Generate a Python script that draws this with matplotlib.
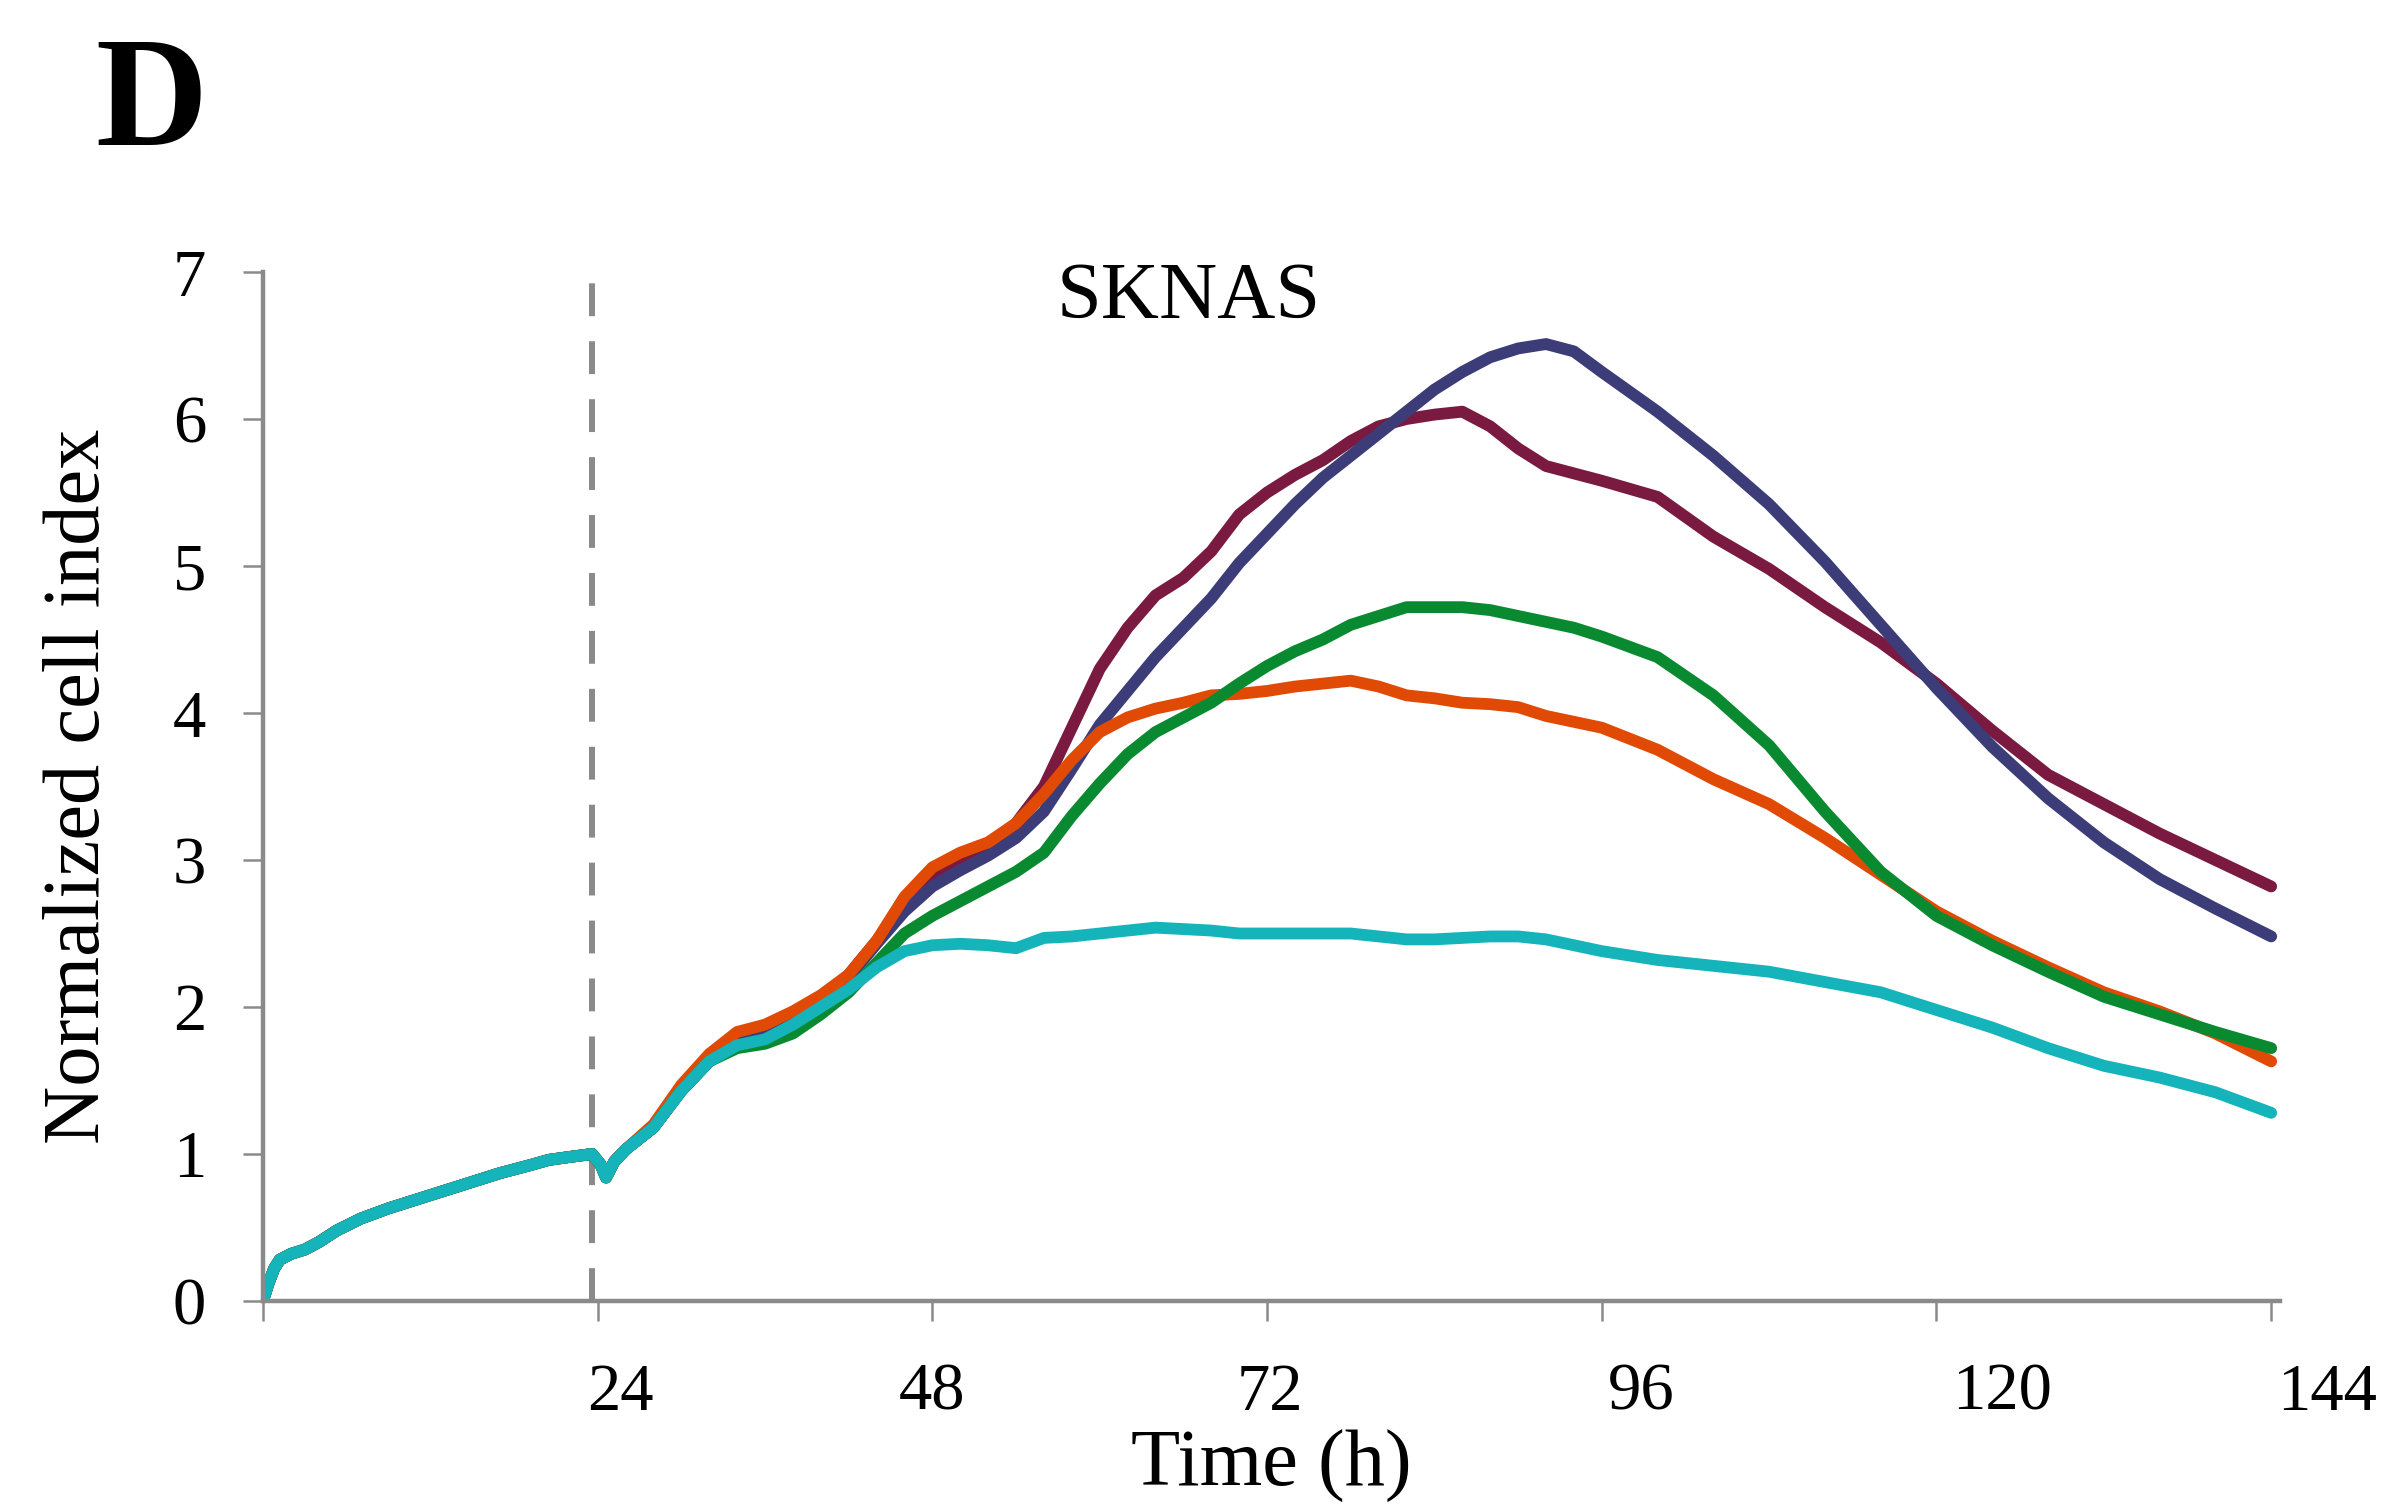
import matplotlib
matplotlib.use("Agg")
from matplotlib import pyplot as plt
import matplotlib.transforms as mtransforms

# time (h) and normalized cell index
# first 26 h: all wells overlap
t_early = [0, 0.4, 0.8, 1.2, 2, 3, 4, 5.3, 7, 9, 11, 13, 15, 17, 19, 20.5, 22, 23.6, 24.2, 24.6, 25.2, 26]
ci_early = [0, 0.12, 0.22, 0.28, 0.32, 0.35, 0.4, 0.48, 0.56, 0.63, 0.69, 0.75, 0.81, 0.87, 0.92, 0.96, 0.98, 1.0, 0.93, 0.84, 0.95, 1.03]

t_late = [28, 30, 32, 34, 36, 38, 40, 42, 44, 46, 48, 50, 52, 54, 56, 58, 60, 62, 64, 66, 68, 70,
          72, 74, 76, 78, 80, 82, 84, 86, 88, 90, 92, 94, 96, 100, 104, 108, 112, 116, 120, 124,
          128, 132, 136, 140, 144]

maroon = [1.18, 1.43, 1.63, 1.76, 1.83, 1.93, 2.05, 2.22, 2.45, 2.7, 2.87, 2.98, 3.08, 3.25, 3.5, 3.9,
          4.3, 4.58, 4.8, 4.92, 5.1, 5.35, 5.5, 5.62, 5.72, 5.85, 5.95, 6.0, 6.03, 6.05, 5.95, 5.8,
          5.68, 5.63, 5.58, 5.47, 5.2, 4.98, 4.72, 4.48, 4.2, 3.88, 3.58, 3.38, 3.18, 3.0, 2.82]
navy = [1.18, 1.43, 1.63, 1.75, 1.82, 1.9, 2.03, 2.2, 2.43, 2.65, 2.82, 2.93, 3.03, 3.15, 3.33, 3.62,
        3.92, 4.15, 4.38, 4.58, 4.78, 5.02, 5.22, 5.42, 5.6, 5.75, 5.9, 6.05, 6.2, 6.32, 6.42, 6.48,
        6.51, 6.46, 6.32, 6.05, 5.75, 5.42, 5.03, 4.6, 4.17, 3.77, 3.42, 3.12, 2.87, 2.67, 2.48]
orange = [1.2, 1.47, 1.68, 1.83, 1.88, 1.97, 2.08, 2.22, 2.45, 2.75, 2.95, 3.05, 3.12, 3.25, 3.45, 3.68,
          3.87, 3.97, 4.03, 4.07, 4.12, 4.13, 4.15, 4.18, 4.2, 4.22, 4.18, 4.12, 4.1, 4.07, 4.06, 4.04,
          3.98, 3.94, 3.9, 3.75, 3.55, 3.38, 3.15, 2.9, 2.65, 2.45, 2.27, 2.1, 1.97, 1.82, 1.63]
green = [1.18, 1.43, 1.63, 1.72, 1.75, 1.82, 1.95, 2.1, 2.3, 2.5, 2.62, 2.72, 2.82, 2.92, 3.05, 3.3,
         3.52, 3.72, 3.87, 3.97, 4.07, 4.2, 4.32, 4.42, 4.5, 4.6, 4.66, 4.72, 4.72, 4.72, 4.7, 4.66,
         4.62, 4.58, 4.52, 4.38, 4.12, 3.78, 3.33, 2.92, 2.62, 2.42, 2.24, 2.07, 1.95, 1.83, 1.72]
cyan = [1.18, 1.43, 1.63, 1.74, 1.78, 1.88, 2.0, 2.12, 2.27, 2.38, 2.42, 2.43, 2.42, 2.4, 2.47, 2.48,
        2.5, 2.52, 2.54, 2.53, 2.52, 2.5, 2.5, 2.5, 2.5, 2.5, 2.48, 2.46, 2.46, 2.47, 2.48, 2.48,
        2.46, 2.42, 2.38, 2.32, 2.28, 2.24, 2.17, 2.1, 1.98, 1.86, 1.72, 1.6, 1.52, 1.42, 1.28]

series = [maroon, navy, orange, green, cyan]
colors = ["#7a1a40", "#3c3c78", "#e04a05", "#0a8a30", "#14b4ba"]

x_ticks = [0, 24, 48, 72, 96, 120, 144]
x_tick_labels = ["", "24", "48", "72", "96", "120", "144"]
treat_time = 23.6

plt.rcParams['font.family'] = ['Liberation Serif', 'DejaVu Serif']
fig = plt.figure(figsize=(23.97, 15.07), dpi=100)
ax = fig.add_axes([0.1097, 0.1367, 0.8413, 0.6828])

for vals, c in zip(series, colors):
    ax.plot(t_early + t_late, ci_early + vals, color=c, lw=8.5, solid_capstyle='round',
            solid_joinstyle='round')

ax.plot([treat_time, treat_time], [0, 6.95], color="#8a8a8a", lw=4.3,
        dashes=(5.5, 4.2), zorder=0)

ax.set_xlim(0, 144.6)
ax.set_ylim(0, 7)
ax.set_xticks(x_ticks)
ax.set_xticklabels(x_tick_labels)
ax.set_yticks(range(0, 8))

for s in ["top", "right"]:
    ax.spines[s].set_visible(False)
for s in ["left", "bottom"]:
    ax.spines[s].set_color("#8a8a8a")
    ax.spines[s].set_linewidth(3.2)
ax.tick_params(direction="out", length=14.4, width=1.8, color="#8a8a8a", labelsize=48)
ax.tick_params(axis="x", pad=30)
ax.tick_params(axis="y", pad=26.6)

# the x labels in the original sit a bit right of their ticks
label_shift = [0, 23, 0, 3, 39, 66, 56]
for lab, dx in zip(ax.get_xticklabels(), label_shift):
    lab.set_transform(lab.get_transform() +
                      mtransforms.ScaledTranslation(dx / 100, 0, fig.dpi_scale_trans))

ax.set_xlabel("Time (h)", fontsize=58, va="baseline")
ax.xaxis.set_label_coords(0.5, -0.18)
ax.set_ylabel("Normalized cell index", fontsize=58)
ax.yaxis.set_label_coords(-0.073, 0.5)

ax.text(66.4, 6.69, "SKNAS", fontsize=58, ha="center", va="baseline")
fig.text(95 / 2397, 1 - 145 / 1507, "D", fontsize=112, fontweight="bold", va="baseline")

plt.savefig("out.png", dpi=100)
